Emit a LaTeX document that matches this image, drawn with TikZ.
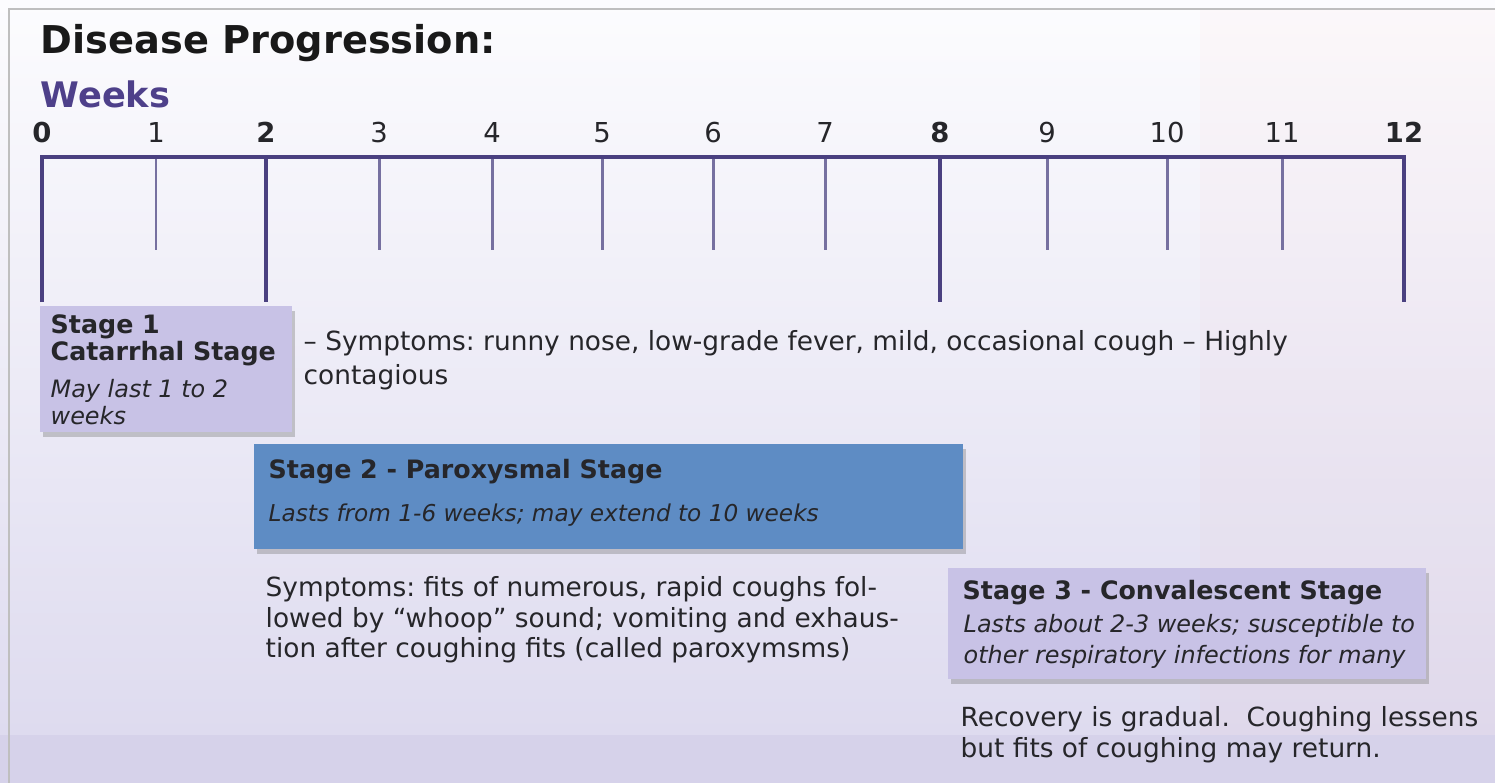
\documentclass[tikz,border=0pt]{standalone}
\usepackage{fontspec}
\setmainfont{DejaVu Sans}
\usepackage{tikz}
\usetikzlibrary{shadows,positioning}
\definecolor{axispurple}{RGB}{74,64,128}
\definecolor{tickpurple}{RGB}{118,112,160}
\definecolor{weekpurple}{RGB}{78,64,138}
\definecolor{textgray}{RGB}{38,38,42}
\definecolor{lilac}{RGB}{200,194,230}
\definecolor{stageblue}{RGB}{94,140,196}
\definecolor{bgtop}{RGB}{252,252,254}
\definecolor{bgbottom}{RGB}{222,219,239}
\definecolor{bgband}{RGB}{214,210,234}
\frenchspacing

\begin{document}
\begin{tikzpicture}[
    x=0.01cm, y=-0.01cm,
    every node/.style={font=\fontsize{7.5}{8.7}\selectfont, text=textgray, inner sep=0pt},
    majortick/.style={draw=axispurple, line width=1.15pt},
    minortick/.style={draw=tickpurple, line width=0.85pt},
    weeknum/.style={anchor=base, font=\fontsize{7.8}{9}\selectfont},
    stagebox/.style={anchor=north west, fill=lilac, drop shadow={shadow xshift=0.8pt, shadow yshift=-1.4pt, opacity=0.4}},
    stagehead/.style={anchor=north west, font=\fontsize{7.2}{8.7}\selectfont\bfseries},
    bodytext/.style={anchor=north west, align=left}
]
\useasboundingbox (0,0) rectangle (1495,783);
% background
\shade[top color=bgtop, bottom color=bgbottom] (0,0) rectangle (1495,735);
\fill[red!40, opacity=0.04] (1200,10) rectangle (1495,735);
\fill[bgband] (0,735) rectangle (1495,783);
\draw[black!25, line width=0.6pt] (9,783) |- (1495,9);

\node[anchor=north west, font=\fontsize{10.9}{13}\selectfont\bfseries, text=black!90] (title) at (40,24) {Disease Progression:};
\node[anchor=north west, font=\fontsize{10}{12}\selectfont\bfseries, text=weekpurple] (weeks) at (40,80) {Weeks};

% weeks axis
\foreach \n/\x in {1/156, 3/379, 4/492, 5/602, 6/713, 7/825, 9/1047, 10/1167, 11/1282} {
    \coordinate (t\n) at (\x,157);
    \draw[minortick] (t\n) -- ++(0,93);
    \node[weeknum] (n\n) at (\x,143) {\n};
}
\foreach \n/\x in {0/42, 2/266, 8/940, 12/1404} {
    \coordinate (t\n) at (\x,157);
    \node[weeknum, font=\fontsize{7.8}{9}\selectfont\bfseries] (n\n) at (\x,143) {\n};
}
\draw[majortick] (t2) -- ++(0,145);
\draw[majortick] (t8) -- ++(0,145);
\draw[majortick] ([yshift=-1.45cm]t0) -- (t0) -- (t12) -- ([yshift=-1.45cm]t12);

% stage 1
\node[stagebox, minimum width=2.52cm, minimum height=1.26cm] (stageone) at (39,305) {};
\node[bodytext, font=\fontsize{7.2}{7.6}\selectfont] (stageonetxt) at (50,314)
    {\textbf{Stage 1}\\\textbf{Catarrhal Stage}\\[3pt]{\fontsize{6.8}{7.6}\selectfont\itshape May last 1 to 2}\\{\fontsize{6.8}{7.6}\selectfont\itshape weeks}};
\node[bodytext, font=\fontsize{7.5}{9.7}\selectfont] (stageonesym) at (303,330)
    {– Symptoms: runny nose, low-grade fever, mild, occasional cough – Highly\\contagious};

% stage 2
\node[stagebox, fill=stageblue, minimum width=7.09cm, minimum height=1.05cm] (stagetwo) at (253,443) {};
\node[stagehead] (stagetwotxt) at (268,459) {Stage 2 - Paroxysmal Stage};
\node[bodytext, font=\fontsize{6.6}{8}\selectfont\itshape] (stagetwodur) at (268,503)
    {Lasts from 1-6 weeks; may extend to 10 weeks};
\node[bodytext] (stagetwosym) at (265,576)
    {Symptoms: fits of numerous, rapid coughs fol-\\lowed by ``whoop'' sound; vomiting and exhaus-\\tion after coughing fits (called paroxymsms)};

% stage 3
\node[stagebox, minimum width=4.78cm, minimum height=1.11cm] (stagethree) at (947,567) {};
\node[stagehead] (stagethreetxt) at (962,580) {Stage 3 - Convalescent Stage};
\node[bodytext, font=\fontsize{6.8}{8.6}\selectfont\itshape] (stagethreedur) at (963,614)
    {Lasts about 2-3 weeks; susceptible to\\other respiratory infections for many};
\node[bodytext] (stagethreesym) at (960,706)
    {Recovery is gradual.\ \ Coughing lessens\\but fits of coughing may return.};
\end{tikzpicture}
\end{document}
